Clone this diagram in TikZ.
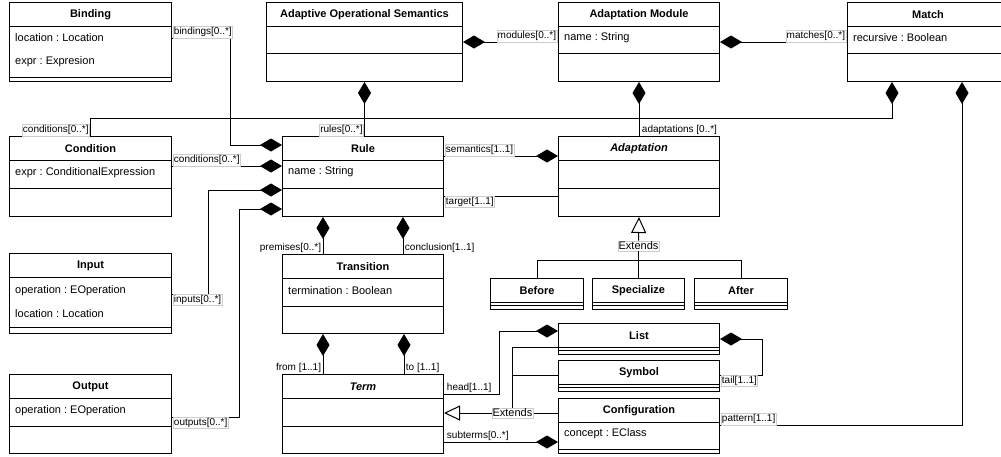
\documentclass[tikz,border=0pt]{standalone}
\usepackage{fontspec}
\setmainfont{Liberation Sans}
\usetikzlibrary{arrows.meta, calc}
\frenchspacing

\tikzset{
  cls/.style={draw, line width=1pt, inner sep=0pt, anchor=north west, fill=white},
  clstitle/.style={font=\fontsize{11}{13}\selectfont\bfseries, inner sep=0pt},
  attr/.style={font=\fontsize{11}{13}\selectfont, anchor=west, inner sep=0pt},
  lbl/.style={font=\fontsize{10}{12}\selectfont, fill=white, draw=black!20, line width=0.5pt, inner xsep=0.7pt, inner ysep=1pt},
  extlbl/.style={lbl, font=\fontsize{11}{13}\selectfont},
  comp/.style={line width=1pt, arrows={Diamond[length=22pt,width=13pt]-}},
  gen/.style={line width=1pt, -{Triangle[length=16pt,width=15pt,fill=white]}},
  assoc/.style={line width=1pt},
}

\newcommand{\umlclass}[6]{%
  \node[cls, minimum width=#4pt, minimum height=#5pt] (#1) at (#2,#3) {};
  \node[clstitle] (#1-title) at ([yshift=-12.5pt]#1.north) {#6};
  \draw[line width=1pt] ([yshift=-24pt]#1.north west) -- ([yshift=-24pt]#1.north east);
}
\newcommand{\umlsep}[2]{%
  \draw[line width=1pt] ([yshift=-#2pt]#1.north west) -- ([yshift=-#2pt]#1.north east);
}

\begin{document}
\begin{tikzpicture}[x=1pt, y=-1pt]
  \useasboundingbox (0,0) rectangle (1001,456);
  \clip (0,0) rectangle (1001,456);

  \umlclass{binding}{9}{2}{162}{79}{Binding}
  \umlsep{binding}{75}
  \node[attr] at ([xshift=6pt,yshift=-36pt]binding.north west) {location : Location};
  \node[attr] at ([xshift=6pt,yshift=-60pt]binding.north west) {expr : Expresion};

  \umlclass{aos}{266}{2}{196}{79}{Adaptive Operational Semantics}
  \umlsep{aos}{51}

  \umlclass{amod}{558}{2}{161}{79}{Adaptation Module}
  \umlsep{amod}{51}
  \node[attr] at ([xshift=6pt,yshift=-36pt]amod.north west) {name : String};

  \umlclass{match}{847}{2}{161}{79}{Match}
  \umlsep{match}{51}
  \node[attr] at ([xshift=6pt,yshift=-36pt]match.north west) {recursive : Boolean};

  \umlclass{cond}{9}{136}{162}{80}{Condition}
  \umlsep{cond}{52}
  \node[attr] at ([xshift=6pt,yshift=-37pt]cond.north west) {expr : ConditionalExpression};

  \umlclass{rule}{282}{136}{161}{80}{Rule}
  \umlsep{rule}{52}
  \node[attr] at ([xshift=6pt,yshift=-36pt]rule.north west) {name : String};

  \umlclass{adapt}{558}{136}{161}{80}{\itshape Adaptation}
  \umlsep{adapt}{52}

  \umlclass{input}{9}{253}{162}{80}{Input}
  \umlsep{input}{74}
  \node[attr] at ([xshift=6pt,yshift=-38pt]input.north west) {operation : EOperation};
  \node[attr] at ([xshift=6pt,yshift=-61pt]input.north west) {location : Location};

  \umlclass{trans}{282}{254}{161}{79}{Transition}
  \umlsep{trans}{52}
  \node[attr] at ([xshift=6pt,yshift=-37pt]trans.north west) {termination : Boolean};

  \umlclass{output}{9}{374}{162}{79}{Output}
  \umlsep{output}{52}
  \node[attr] at ([xshift=6pt,yshift=-37pt]output.north west) {operation : EOperation};

  \umlclass{term}{282}{374}{161}{79}{\itshape Term}
  \umlsep{term}{52}

  \umlclass{before}{490}{278}{93}{31}{Before}
  \umlsep{before}{27.5}
  \umlclass{special}{592}{278}{92}{31}{Specialize}
  \umlsep{special}{27.5}
  \umlclass{after}{694}{278}{93}{31}{After}
  \umlsep{after}{27.5}

  \umlclass{list}{558}{323}{161}{31}{List}
  \umlsep{list}{27.5}
  \umlclass{symbol}{558}{360}{161}{31}{Symbol}
  \umlsep{symbol}{27.5}
  \umlclass{config}{558}{398}{161}{55}{Configuration}
  \umlsep{config}{51}
  \node[attr] at ([xshift=6pt,yshift=-36pt]config.north west) {concept : EClass};

  \draw[comp] ([yshift=-9pt]rule.north west) -- ++(-52,0) |- ([yshift=-36pt]binding.north east)
    node[lbl, anchor=south west, xshift=1pt] {bindings[0..*]};
  \draw[comp] ([yshift=-30pt]rule.north west) -- ([yshift=-30pt]cond.north east)
    node[lbl, anchor=south west, xshift=1pt] {conditions[0..*]};
  \draw[comp] ([yshift=-54pt]rule.north west) -- ++(-74,0) |- ([yshift=-41pt]input.north east)
    node[lbl, anchor=north west, xshift=1pt] {inputs[0..*]};
  \draw[comp] ([yshift=-73pt]rule.north west) -- ++(-43,0) |- ([yshift=-43pt]output.north east)
    node[lbl, anchor=north west, xshift=1pt] {outputs[0..*]};

  \draw[comp] (aos.south) -- (aos.south |- rule.north)
    node[lbl, anchor=south east, xshift=-1pt] {rules[0..*]};
  \draw[comp] ([yshift=-40pt]aos.north east) -- ([yshift=-40pt]amod.north west)
    node[lbl, anchor=south east, xshift=-1pt] {modules[0..*]};
  \draw[comp] ([yshift=-40pt]amod.north east) -- ([yshift=-40pt]match.north west)
    node[lbl, anchor=south east, xshift=-1pt] {matches[0..*]};
  \draw[comp] (amod.south) -- (adapt.north)
    node[lbl, draw=none, anchor=south west, xshift=2pt] {adaptations [0..*]};
  \draw[comp] ([xshift=45pt]match.south west) -- ++(0,36) -| (cond.north)
    node[lbl, anchor=south east, xshift=-1pt] {conditions[0..*]};
  \draw[comp] ([xshift=115pt]match.south west) |- ([yshift=-27pt]config.north east)
    node[lbl, anchor=south west, xshift=1pt] {pattern[1..1]};

  \draw[comp] ([yshift=-20pt]adapt.north west) -- ([yshift=-20pt]rule.north east)
    node[lbl, anchor=south west, xshift=1pt] {semantics[1..1]};
  \draw[assoc] ([yshift=-60pt]rule.north east) node[lbl, anchor=north west, xshift=1pt] {target[1..1]}
    -- ([yshift=-60pt]adapt.north west);

  \draw[comp] ([xshift=41pt]rule.south west) coordinate (prem) -- (prem |- trans.north)
    node[lbl, draw=none, anchor=south east, xshift=-1pt] {premises[0..*]};
  \draw[comp] ([xshift=121pt]rule.south west) coordinate (concl) -- (concl |- trans.north)
    node[lbl, draw=none, anchor=south west, xshift=1pt] {conclusion[1..1]};
  \draw[comp] ([xshift=41pt]trans.south west) coordinate (from) -- (from |- term.north)
    node[lbl, draw=none, anchor=south east, xshift=-1pt] {from [1..1]};
  \draw[comp] ([xshift=122pt]trans.south west) coordinate (to) -- (to |- term.north)
    node[lbl, draw=none, anchor=south west, xshift=1pt] {to [1..1]};

  \draw[comp] ([yshift=-8pt]list.north west) -- ++(-59,0) |- ([yshift=-20pt]term.north east)
    node[lbl, draw=none, anchor=south west, xshift=2pt] {head[1..1]};
  \draw[comp] ([yshift=-16pt]list.north east) -- ++(42,0) |- ([yshift=-15pt]symbol.north east)
    node[lbl, anchor=north west, xshift=1pt] {tail[1..1]};
  \draw[comp] ([yshift=-44pt]config.north west) -- ([yshift=-68pt]term.north east)
    node[lbl, draw=none, anchor=south west, xshift=2pt] {subterms[0..*]};

  \draw[gen] ([yshift=-15pt]config.north west) -- node[extlbl, pos=0.4] (ext2) {Extends} ([yshift=-39pt]term.north east);
  \draw[assoc] ([yshift=-24pt]list.north west) -| (ext2.north);
  \draw[assoc] ([yshift=-15pt]symbol.north west) -- ++(-45,0);

  \node[extlbl] (ext1) at (638.5,246) {Extends};
  \draw[gen] (ext1.north) -- (adapt.south);
  \draw[assoc] (special.north) -- (ext1.south);
  \draw[assoc] (before.north) -- ++(0,-18) -| (after.north);
\end{tikzpicture}
\end{document}
